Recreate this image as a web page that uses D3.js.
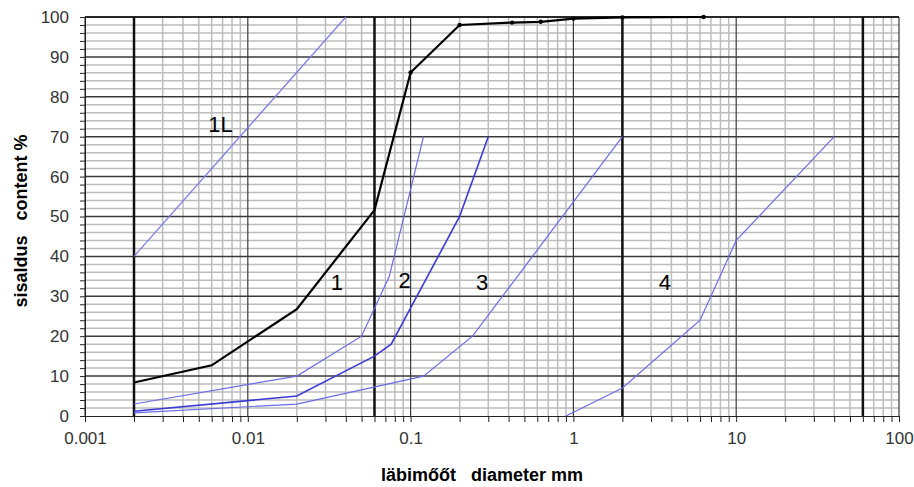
<!DOCTYPE html>
<meta charset="utf-8" />
<html>
<head>
    <style>
        body { margin: 0; background: #fff; }
        text { font-family: "Liberation Sans", Arial, sans-serif; }
        .axis path { stroke: #222; }
        .axis line { stroke: #222; }
        .axis text { font-size: 17px; fill: #333; }
    </style>
</head>
<body>
    <svg width="914" height="487"></svg>
    <script src="https://d3js.org/d3.v7.min.js"></script>
    <script>
        // decades on the x axis and their labels
        var xDecades = [0.001, 0.01, 0.1, 1, 10, 100];
        var xTickLabels = ["0.001", "0.01", "0.1", "1", "10", "100"];
        // fraction boundaries (thick black verticals)
        var boundaries = [0.002, 0.06, 2, 60];

        // measured sample (black curve)
        var sampleX = [0.002, 0.006, 0.02, 0.06, 0.1, 0.2, 0.42, 0.63, 1, 2, 6.3];
        var sampleY = [8.4, 12.7, 26.8, 51.6, 86.1, 98, 98.6, 98.8, 99.6, 99.9, 100];

        // zone curves
        var line1LX = [0.002, 0.04];
        var line1LY = [40, 100];
        var curve1X = [0.002, 0.02, 0.05, 0.074, 0.12];
        var curve1Y = [3, 10, 20, 35, 70];
        var curve2X = [0.002, 0.02, 0.06, 0.076, 0.2, 0.3];
        var curve2Y = [1.2, 5, 15, 18, 50, 70];
        var curve3X = [0.002, 0.02, 0.12, 0.24, 2];
        var curve3Y = [0.8, 3, 10, 20, 70];
        var curve4X = [0.9, 2, 6, 10, 40];
        var curve4Y = [0, 7, 24, 44, 70];

        // zone labels
        var zoneNames = ["1L", "1", "2", "3", "4"];
        var zoneX = [0.0068, 0.0353, 0.092, 0.275, 3.65];
        var zoneY = [73, 33.4, 33.9, 33.4, 33.4];

        var svg = d3.select("svg");
        var margin = { top: 17, right: 15, bottom: 71, left: 85 };
        var width = 914 - margin.left - margin.right;
        var height = 487 - margin.top - margin.bottom;

        var g = svg.append("g").attr("transform", "translate(" + margin.left + "," + margin.top + ")");

        var x = d3.scaleLog().domain([0.001, 100]).range([0, width]);
        var y = d3.scaleLinear().domain([0, 100]).range([height, 0]);

        // all minor positions 1..9 in each decade
        var xMinor = [];
        xDecades.slice(0, -1).forEach(function (d) {
            for (var k = 1; k < 10; k++) xMinor.push(d * k);
        });
        xMinor.push(100);
        var yMinor = d3.range(0, 101, 2);

        // grid: minor first, then major
        g.append("g").selectAll("line")
            .data(xMinor.filter(function (d) { return xDecades.indexOf(d) < 0; }))
            .enter().append("line")
            .attr("x1", function (d) { return x(d); }).attr("x2", function (d) { return x(d); })
            .attr("y1", 0).attr("y2", height)
            .attr("stroke", "#bdbdbd").attr("stroke-width", 1.5);

        g.append("g").selectAll("line")
            .data(yMinor.filter(function (d) { return d % 10 !== 0; }))
            .enter().append("line")
            .attr("x1", 0).attr("x2", width)
            .attr("y1", function (d) { return y(d); }).attr("y2", function (d) { return y(d); })
            .attr("stroke", "#bdbdbd").attr("stroke-width", 1.5);

        g.append("g").selectAll("line")
            .data(d3.range(10, 101, 10))
            .enter().append("line")
            .attr("x1", 0).attr("x2", width)
            .attr("y1", function (d) { return y(d); }).attr("y2", function (d) { return y(d); })
            .attr("stroke", "#3a3a3a").attr("stroke-width", 1.5);

        g.append("g").selectAll("line")
            .data(xDecades)
            .enter().append("line")
            .attr("x1", function (d) { return x(d); }).attr("x2", function (d) { return x(d); })
            .attr("y1", 0).attr("y2", height)
            .attr("stroke", "#3a3a3a").attr("stroke-width", 1.2);

        // top border
        g.append("line")
            .attr("x1", 0).attr("x2", width).attr("y1", 0).attr("y2", 0)
            .attr("stroke", "#111").attr("stroke-width", 1.5);

        // fraction boundaries
        g.append("g").selectAll("line")
            .data(boundaries)
            .enter().append("line")
            .attr("x1", function (d) { return x(d); }).attr("x2", function (d) { return x(d); })
            .attr("y1", y(100)).attr("y2", y(0))
            .attr("stroke", "#111").attr("stroke-width", 2.5);

        // axes
        g.append("g")
            .attr("class", "axis")
            .attr("transform", "translate(0," + height + ")")
            .call(d3.axisBottom(x).tickValues(xMinor).tickSizeInner(6).tickSizeOuter(0)
                .tickFormat(function (d) {
                    var i = xDecades.indexOf(d);
                    return i < 0 ? "" : xTickLabels[i];
                }))
            .call(function (a) { a.selectAll("text").attr("y", 28).attr("dy", 0); });

        g.append("g")
            .attr("class", "axis")
            .call(d3.axisLeft(y).tickValues(yMinor).tickSizeInner(5).tickSizeOuter(0)
                .tickFormat(function (d) { return d % 10 === 0 ? d : ""; }))
            .call(function (a) { a.selectAll("text").attr("x", -16); });

        // curves
        var line = d3.line()
            .x(function (d) { return x(d[0]); })
            .y(function (d) { return y(d[1]); });

        function draw(xs, ys, color, w) {
            g.append("path")
                .datum(d3.zip(xs, ys))
                .attr("fill", "none")
                .attr("stroke", color)
                .attr("stroke-width", w)
                .attr("d", line);
        }

        draw(line1LX, line1LY, "#7b7be8", 1.2);
        draw(curve1X, curve1Y, "#6b6be6", 1.2);
        draw(curve3X, curve3Y, "#6b6be6", 1.2);
        draw(curve4X, curve4Y, "#6b6be6", 1.2);
        draw(curve2X, curve2Y, "#3a3ad6", 1.6);
        draw(sampleX, sampleY, "#000", 2.2);

        g.append("g").selectAll("circle")
            .data(d3.zip(sampleX, sampleY).slice(4))
            .enter().append("circle")
            .attr("cx", function (d) { return x(d[0]); })
            .attr("cy", function (d) { return y(d[1]); })
            .attr("r", 2.2)
            .attr("fill", "#000");

        // zone labels
        g.append("g").selectAll("text")
            .data(zoneNames)
            .enter().append("text")
            .attr("x", function (d, i) { return x(zoneX[i]); })
            .attr("y", function (d, i) { return y(zoneY[i]); })
            .attr("dy", "0.35em")
            .attr("text-anchor", "middle")
            .attr("font-size", 22)
            .attr("fill", "#000")
            .text(function (d) { return d; });

        // axis titles
        svg.append("text")
            .attr("x", 482)
            .attr("y", 481)
            .attr("text-anchor", "middle")
            .attr("font-size", 18)
            .attr("font-weight", "bold")
            .style("white-space", "pre")
            .text("läbimőőt   diameter mm");

        svg.append("text")
            .attr("transform", "translate(27,221) rotate(-90)")
            .attr("text-anchor", "middle")
            .attr("font-size", 18)
            .attr("font-weight", "bold")
            .style("white-space", "pre")
            .text("sisaldus   content %");
    </script>
</body>
</html>
